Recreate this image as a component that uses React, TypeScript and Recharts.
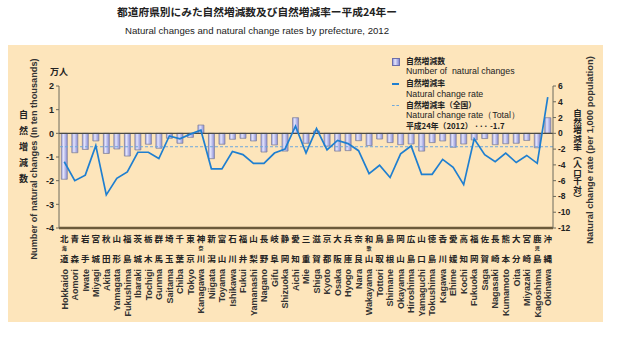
import { ComposedChart, Bar, Line, XAxis, YAxis, ReferenceLine } from "recharts";

const prefJa = [
  "北海道", "青森", "岩手", "宮城", "秋田", "山形", "福島", "茨城", "栃木", "群馬",
  "埼玉", "千葉", "東京", "神奈川", "新潟", "富山", "石川", "福井", "山梨", "長野",
  "岐阜", "静岡", "愛知", "三重", "滋賀", "京都", "大阪", "兵庫", "奈良", "和歌山",
  "鳥取", "島根", "岡山", "広島", "山口", "徳島", "香川", "愛媛", "高知", "福岡",
  "佐賀", "長崎", "熊本", "大分", "宮崎", "鹿児島", "沖縄",
];

const prefEn = [
  "Hokkaido", "Aomori", "Iwate", "Miyagi", "Akita", "Yamagata", "Fukushima", "Ibaraki", "Tochigi", "Gunma",
  "Saitama", "Chiba", "Tokyo", "Kanagawa", "Niigata", "Toyama", "Ishikawa", "Fukui", "Yamanashi", "Nagano",
  "Gifu", "Shizuoka", "Aichi", "Mie", "Shiga", "Kyoto", "Osaka", "Hyogo", "Nara", "Wakayama",
  "Tottori", "Shimane", "Okayama", "Hiroshima", "Yamaguchi", "Tokushima", "Kagawa", "Ehime", "Kochi", "Fukuoka",
  "Saga", "Nagasaki", "Kumamoto", "Oita", "Miyazaki", "Kagoshima", "Okinawa",
];

// natural changes, ten thousands
const naturalChanges = [
  -1.94, -0.82, -0.68, -0.32, -0.85, -0.66, -0.96, -0.7, -0.46, -0.63,
  -0.21, -0.42, -0.17, 0.35, -1.07, -0.46, -0.25, -0.21, -0.32, -0.79,
  -0.49, -0.75, 0.66, -0.42, 0.1, -0.54, -0.75, -0.73, -0.31, -0.52,
  -0.24, -0.39, -0.48, -0.45, -0.75, -0.39, -0.32, -0.59, -0.45, -0.28,
  -0.22, -0.48, -0.44, -0.42, -0.3, -0.61, 0.66,
];

// natural change rate, per 1,000 population
const changeRates = [
  -3.6, -6.0, -5.3, -1.56, -7.8, -5.7, -4.9, -2.4, -2.4, -3.2,
  -0.34, -0.7, -0.1, 0.4, -4.5, -4.5, -2.3, -2.7, -3.8, -3.8,
  -2.5, -2.0, 0.9, -2.5, 0.6, -2.1, -0.9, -1.3, -2.2, -5.1,
  -4.05, -5.6, -2.6, -1.6, -5.2, -5.2, -3.3, -4.3, -6.5, -0.7,
  -2.7, -3.6, -2.5, -3.7, -2.8, -3.8, 4.6,
];

const nationalRate = -1.7;
const leftTicks = [-4, -3, -2, -1, 0, 1, 2];
const rightTicks = [-12, -10, -8, -6, -4, -2, 0, 2, 4, 6];

const data = prefEn.map((en, i) => ({
  en,
  ja: prefJa[i],
  change: naturalChanges[i],
  rate: changeRates[i],
}));

const jaFont = "'Noto Sans CJK JP', sans-serif";
const enFont = "'Liberation Sans', Arial, sans-serif";

const PrefTick = (props: any) => {
  const { x, payload } = props;
  const i = prefEn.indexOf(payload.value);
  const chars = (prefJa[i] || "").split("");
  return (
    <g fill="#222" fontFamily={jaFont} fontWeight={700}>
      <text x={x} y={241.5} textAnchor="middle" fontSize={8.5}>{chars[0]}</text>
      {chars.length === 3 && (
        <text x={x} y={250} textAnchor="middle" fontSize={5}>{chars[1]}</text>
      )}
      <text x={x} y={262} textAnchor="middle" fontSize={8.5}>{chars[chars.length - 1]}</text>
      <text
        transform={`translate(${x + 3.3},269) rotate(-90)`}
        textAnchor="end"
        fontSize={9}
        fontFamily={enFont}
        fontWeight={700}
        fill="#333"
      >
        {payload.value}
      </text>
    </g>
  );
};

const abs = (left: number, top: number): React.CSSProperties => ({
  position: "absolute",
  left,
  top,
  whiteSpace: "nowrap",
  lineHeight: 1,
});

const legJa: React.CSSProperties = { fontFamily: jaFont, fontSize: 7.8, fontWeight: 700, color: "#222" };
const legEn: React.CSSProperties = { fontFamily: enFont, fontSize: 8.8, color: "#222" };

export default function App() {
  return (
    <div style={{ position: "absolute", left: 0, top: 0, width: 620, height: 339, background: "#fff", overflow: "hidden" }}>
      <div style={{ position: "absolute", left: 8, top: 45, width: 595, height: 277, background: "#fde5bb" }} />

      <div style={{ ...abs(0, 7), width: 514, textAlign: "center", fontFamily: jaFont, fontSize: 10.7, fontWeight: 700, color: "#222" }}>
        都道府県別にみた自然増減数及び自然増減率ー平成24年ー
      </div>
      <div style={{ ...abs(0, 26), width: 514, textAlign: "center", fontFamily: enFont, fontSize: 9.6, color: "#222" }}>
        Natural changes and natural change rates by prefecture, 2012
      </div>

      <div style={{ position: "absolute", left: 0, top: 0 }}>
        <ComposedChart
          width={620}
          height={339}
          data={data}
          margin={{ top: 86, right: 27, bottom: 0, left: 29 }}
          barCategoryGap="22%"
        >
          <defs>
            <linearGradient id="barGrad" x1="0" y1="0" x2="1" y2="0">
              <stop offset="0%" stopColor="#979be0" />
              <stop offset="35%" stopColor="#e4e4fa" />
              <stop offset="100%" stopColor="#878bd6" />
            </linearGradient>
          </defs>
          <XAxis
            dataKey="en"
            height={111}
            interval={0}
            tickLine={false}
            axisLine={{ stroke: "#6b5a3a", strokeWidth: 2.5 }}
            tick={<PrefTick />}
          />
          <YAxis
            yAxisId="left"
            width={30}
            domain={[-4, 2]}
            ticks={leftTicks}
            allowDataOverflow
            interval={0}
            tickSize={3}
            tickMargin={2}
            axisLine={{ stroke: "#6d6a5c" }}
            tickLine={{ stroke: "#6d6a5c" }}
            tick={{ fontSize: 9, fontWeight: 700, fill: "#222", fontFamily: enFont }}
          />
          <YAxis
            yAxisId="right"
            orientation="right"
            width={40}
            domain={[-12, 6]}
            ticks={rightTicks}
            allowDataOverflow
            interval={0}
            tickSize={3}
            tickMargin={2}
            axisLine={{ stroke: "#6d6a5c" }}
            tickLine={{ stroke: "#6d6a5c" }}
            tick={{ fontSize: 8.5, fontWeight: 700, fill: "#222", fontFamily: enFont }}
          />
          <Bar
            yAxisId="left"
            dataKey="change"
            fill="url(#barGrad)"
            stroke="#84849a"
            strokeWidth={0.8}
            isAnimationActive={false}
          />
          <ReferenceLine yAxisId="left" y={0} stroke="#4a4a44" strokeWidth={1.2} />
          <ReferenceLine yAxisId="right" y={nationalRate} stroke="#6fa8dc" strokeDasharray="3 2" strokeWidth={1} />
          <Line
            yAxisId="right"
            dataKey="rate"
            stroke="#1f7fd0"
            strokeWidth={1.7}
            dot={false}
            isAnimationActive={false}
          />
        </ComposedChart>
      </div>

      {/* left axis titles */}
      <div style={{ ...abs(50, 67), fontFamily: jaFont, fontSize: 9, fontWeight: 700, color: "#222" }}>万人</div>
      <div style={{ position: "absolute", left: 19, top: 110, writingMode: "vertical-rl", fontFamily: jaFont, fontSize: 9, fontWeight: 700, letterSpacing: 7, color: "#222", lineHeight: 1 }}>
        自然増減数
      </div>
      <div
        style={{
          ...abs(35, 159),
          fontFamily: enFont,
          fontSize: 9.2,
          fontWeight: 700,
          color: "#333",
          transform: "translate(-50%, -50%) rotate(-90deg)",
        }}
      >
        Number of natural changes (In ten thousands)
      </div>

      {/* right axis titles */}
      <div style={{ position: "absolute", left: 573, top: 109, writingMode: "vertical-rl", fontFamily: jaFont, fontSize: 8.5, fontWeight: 700, color: "#222", lineHeight: 1 }}>
        自然増減率（人口千対）
      </div>
      <div
        style={{
          ...abs(590, 150),
          fontFamily: enFont,
          fontSize: 9.4,
          fontWeight: 700,
          color: "#333",
          transform: "translate(-50%, -50%) rotate(-90deg)",
        }}
      >
        Natural change rate (per 1,000 population)
      </div>

      {/* legend */}
      <div style={{ position: "absolute", left: 392, top: 58, width: 6, height: 6, border: "1px solid #6c6ea8", background: "linear-gradient(90deg,#979be0,#e4e4fa 35%,#878bd6)" }} />
      <div style={{ ...abs(406, 56.5), ...legJa }}>自然増減数</div>
      <div style={{ ...abs(406, 67), ...legEn }}>Number of&nbsp; natural changes</div>

      <div style={{ position: "absolute", left: 392, top: 83, width: 7, height: 1.6, background: "#1f7fd0" }} />
      <div style={{ ...abs(406, 79), ...legJa }}>自然増減率</div>
      <div style={{ ...abs(406, 89.5), ...legEn }}>Natural change rate</div>

      <div style={{ position: "absolute", left: 392, top: 105, width: 7, height: 0, borderTop: "1px dashed #6fa8dc" }} />
      <div style={{ ...abs(406, 101), ...legJa }}>自然増減率（全国）</div>
      <div style={{ ...abs(406, 111), ...legEn }}>Natural change rate（Total）</div>
      <div style={{ ...abs(406, 121.5), ...legJa }}>平成24年（2012） ··· -1.7</div>
    </div>
  );
}
